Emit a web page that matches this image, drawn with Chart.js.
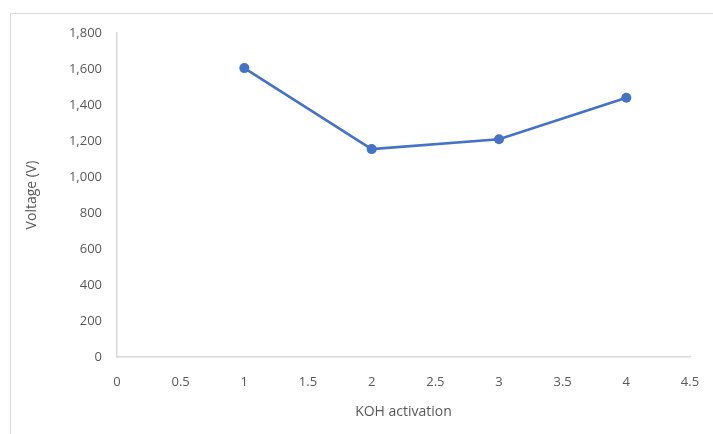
<!DOCTYPE html>
<html>
<head>
<meta charset="utf-8">
<script src="https://cdn.jsdelivr.net/npm/chart.js@4"></script>
<style>
  html, body { margin: 0; padding: 0; background: #fff; }
  #wrap { width: 713px; height: 434px; position: relative; }
</style>
</head>
<body>
<div id="wrap"><canvas id="c" width="713" height="434"></canvas></div>
<script>
// KOH activation level vs. measured voltage
const activation = [1, 2, 3, 4];
const voltage = [1605, 1155, 1210, 1440];
const xTicks = [0, 0.5, 1, 1.5, 2, 2.5, 3, 3.5, 4, 4.5];
const yTicks = [0, 200, 400, 600, 800, 1000, 1200, 1400, 1600, 1800];

const textColor = '#595959';
const axisColor = '#d9d9d9';
const lineColor = '#4472C4';
const fontFamily = "'Open Sans', 'Liberation Sans', sans-serif";

// light outer frame around the chart
const framePlugin = {
  id: 'frame',
  beforeDraw(chart) {
    const ctx = chart.ctx;
    ctx.save();
    ctx.fillStyle = '#fff';
    ctx.fillRect(0, 0, chart.width, chart.height);
    ctx.strokeStyle = '#d9d9d9';
    ctx.lineWidth = 1;
    ctx.strokeRect(10.5, 13.5, 900, 600);
    ctx.restore();
  }
};

new Chart(document.getElementById('c'), {
  type: 'scatter',
  data: {
    datasets: [{
      data: activation.map((x, i) => ({ x: x, y: voltage[i] })),
      showLine: true,
      borderColor: lineColor,
      backgroundColor: lineColor,
      borderWidth: 2.5,
      pointRadius: 5,
      pointHoverRadius: 5,
      pointBorderWidth: 0
    }]
  },
  options: {
    responsive: false,
    animation: false,
    layout: { padding: { top: 33, right: 23, left: 0, bottom: 0 } },
    plugins: { legend: { display: false }, tooltip: { enabled: false } },
    scales: {
      x: {
        type: 'linear',
        min: 0, max: 4.5,
        afterBuildTicks: (s) => { s.ticks = xTicks.map(v => ({ value: v })); },
        afterFit: (s) => { s.height = 77; s.paddingRight = 0; s.paddingLeft = 0; },
        grid: { display: false, drawTicks: false },
        border: { display: true, color: axisColor, width: 1.5 },
        ticks: {
          color: textColor,
          font: { family: fontFamily, size: 13 },
          padding: 17,
          maxRotation: 0,
          autoSkip: false,
          callback: (v) => String(v)
        },
        title: {
          display: true,
          text: 'KOH activation',
          color: textColor,
          font: { family: fontFamily, size: 14 },
          padding: { top: 0, bottom: 14 }
        }
      },
      y: {
        min: 0, max: 1800,
        afterBuildTicks: (s) => { s.ticks = yTicks.map(v => ({ value: v })); },
        afterFit: (s) => { s.width = 117; s.paddingTop = 0; s.paddingBottom = 0; },
        grid: { display: false, drawTicks: false },
        border: { display: true, color: axisColor, width: 1.5 },
        ticks: {
          color: textColor,
          font: { family: fontFamily, size: 13 },
          padding: 15,
          callback: (v) => v.toLocaleString('en-US')
        },
        title: {
          display: true,
          text: 'Voltage (V)',
          color: textColor,
          font: { family: fontFamily, size: 14 },
          padding: { top: 24, bottom: 0 }
        }
      }
    }
  },
  plugins: [framePlugin]
});
</script>
</body>
</html>
